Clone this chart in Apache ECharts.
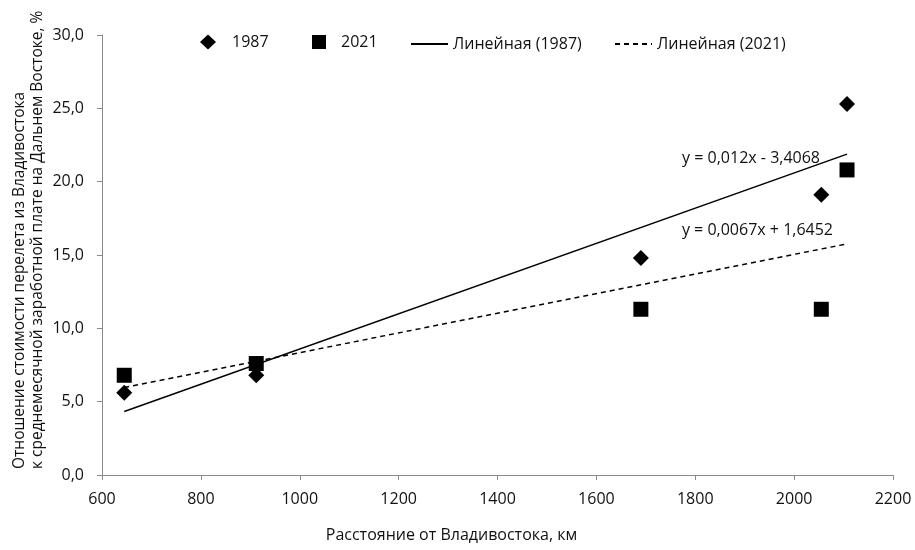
<!DOCTYPE html>
<html>
<head>
<meta charset="utf-8">
<script src="https://cdn.jsdelivr.net/npm/echarts@6/dist/echarts.min.js"></script>
<style>html,body{margin:0;padding:0;background:#fff}#c{width:915px;height:550px}</style>
</head>
<body>
<div id="c"></div>
<script>
var distances = [645, 912, 1690, 2055, 2107];
var values1987 = [5.6, 6.8, 14.8, 19.1, 25.3];
var values2021 = [6.8, 7.6, 11.3, 11.3, 20.8];
var trend1987 = {slope: 0.012, intercept: -3.4068, label: 'y = 0,012x - 3,4068'};
var trend2021 = {slope: 0.0067, intercept: 1.6452, label: 'y = 0,0067x + 1,6452'};
var xTicks = {min: 600, max: 2200, interval: 200};
var yTicks = {min: 0, max: 30, interval: 5};
var xTitle = 'Расстояние от Владивостока, км';
var yTitle = 'Отношение стоимости перелета из Владивостока\nк среднемесячной заработной плате на Дальнем Востоке, %';

var FONT = 'Open Sans';
var TXT = '#111';
function pairs(xs, ys){ return xs.map(function(x,i){ return [x, ys[i]]; }); }
var x0 = Math.min.apply(null, distances), x1 = Math.max.apply(null, distances);
function trendLine(t){ return [[x0, t.slope*x0 + t.intercept], [x1, t.slope*x1 + t.intercept]]; }
function trendLabel(t, labelOpt){
  return {symbol: 'circle', symbolSize: 0, silent: true,
    data: [{coord: [x1, t.slope*x1 + t.intercept],
      label: Object.assign({show: true, formatter: t.label, color: TXT, fontFamily: FONT, fontSize: 16}, labelOpt)}]};
}

var chart = echarts.init(document.getElementById('c'), null, {renderer:'canvas'});
var legendText = {color: TXT, fontFamily: FONT, fontSize: 16};
chart.setOption({
  animation: false,
  backgroundColor: '#fff',
  grid: {left: 102, right: 22, top: 35, bottom: 75},
  legend: [
    {top: 29, left: 195, itemWidth: 16, itemHeight: 15, data: [{name:'1987', icon:'diamond'}], textStyle: Object.assign({padding:[0,0,0,11]}, legendText)},
    {top: 29, left: 307, itemWidth: 14, itemHeight: 14, data: [{name:'2021', icon:'rect'}], textStyle: Object.assign({padding:[0,0,0,10]}, legendText)},
    {top: 31, left: 405, itemWidth: 37, itemHeight: 10, itemStyle: {opacity: 0}, data: ['Линейная (1987)'], textStyle: legendText},
    {top: 31, left: 609, itemWidth: 37, itemHeight: 10, itemStyle: {opacity: 0}, data: ['Линейная (2021)'], textStyle: legendText}
  ],
  graphic: [{
    type: 'text', x: 29, y: 469, rotation: Math.PI / 2, silent: true,
    style: {text: yTitle, fill: TXT, font: '15.5px "' + FONT + '"', lineHeight: 18, align: 'left', verticalAlign: 'middle'}
  }],
  xAxis: {
    type: 'value', min: xTicks.min, max: xTicks.max, interval: xTicks.interval,
    name: xTitle, nameLocation: 'middle', nameGap: 52,
    nameTextStyle: {color: TXT, fontFamily: FONT, fontSize: 16, padding: [0, 92, 0, 0]},
    axisLine: {lineStyle: {color: '#8a8a8a', width: 1}},
    axisTick: {show: true, length: 5, lineStyle: {color: '#8a8a8a'}},
    axisLabel: {color: TXT, fontFamily: FONT, fontSize: 16, margin: 16, formatter: function(v){ return String(v); }},
    splitLine: {show: false}
  },
  yAxis: {
    type: 'value', min: yTicks.min, max: yTicks.max, interval: yTicks.interval,
    axisLine: {show: true, lineStyle: {color: '#8a8a8a', width: 1}},
    axisTick: {show: true, length: 5, lineStyle: {color: '#8a8a8a'}},
    axisLabel: {color: TXT, fontFamily: FONT, fontSize: 16, margin: 18,
      formatter: function(v){ return v.toFixed(1).replace('.', ','); }},
    splitLine: {show: false}
  },
  series: [
    {name: '1987', type: 'scatter', symbol: 'diamond', symbolSize: 16, itemStyle: {color: '#000', opacity: 1}, data: pairs(distances, values1987), z: 3},
    {name: '2021', type: 'scatter', symbol: 'rect', symbolSize: 15, itemStyle: {color: '#000', opacity: 1}, data: pairs(distances, values2021), z: 3},
    {name: 'Линейная (1987)', type: 'line', symbol: 'none',
     lineStyle: {color: '#000', width: 1.5, type: 'solid'}, itemStyle: {color: '#000'},
     data: trendLine(trend1987),
     markPoint: trendLabel(trend1987, {position: 'left', distance: 27, offset: [0, 4]})},
    {name: 'Линейная (2021)', type: 'line', symbol: 'none',
     lineStyle: {color: '#000', width: 1.5, type: [5, 4]}, itemStyle: {color: '#000'},
     data: trendLine(trend2021),
     markPoint: trendLabel(trend2021, {position: 'left', distance: 14, offset: [0, -13]})}
  ]
});
</script>
</body>
</html>
